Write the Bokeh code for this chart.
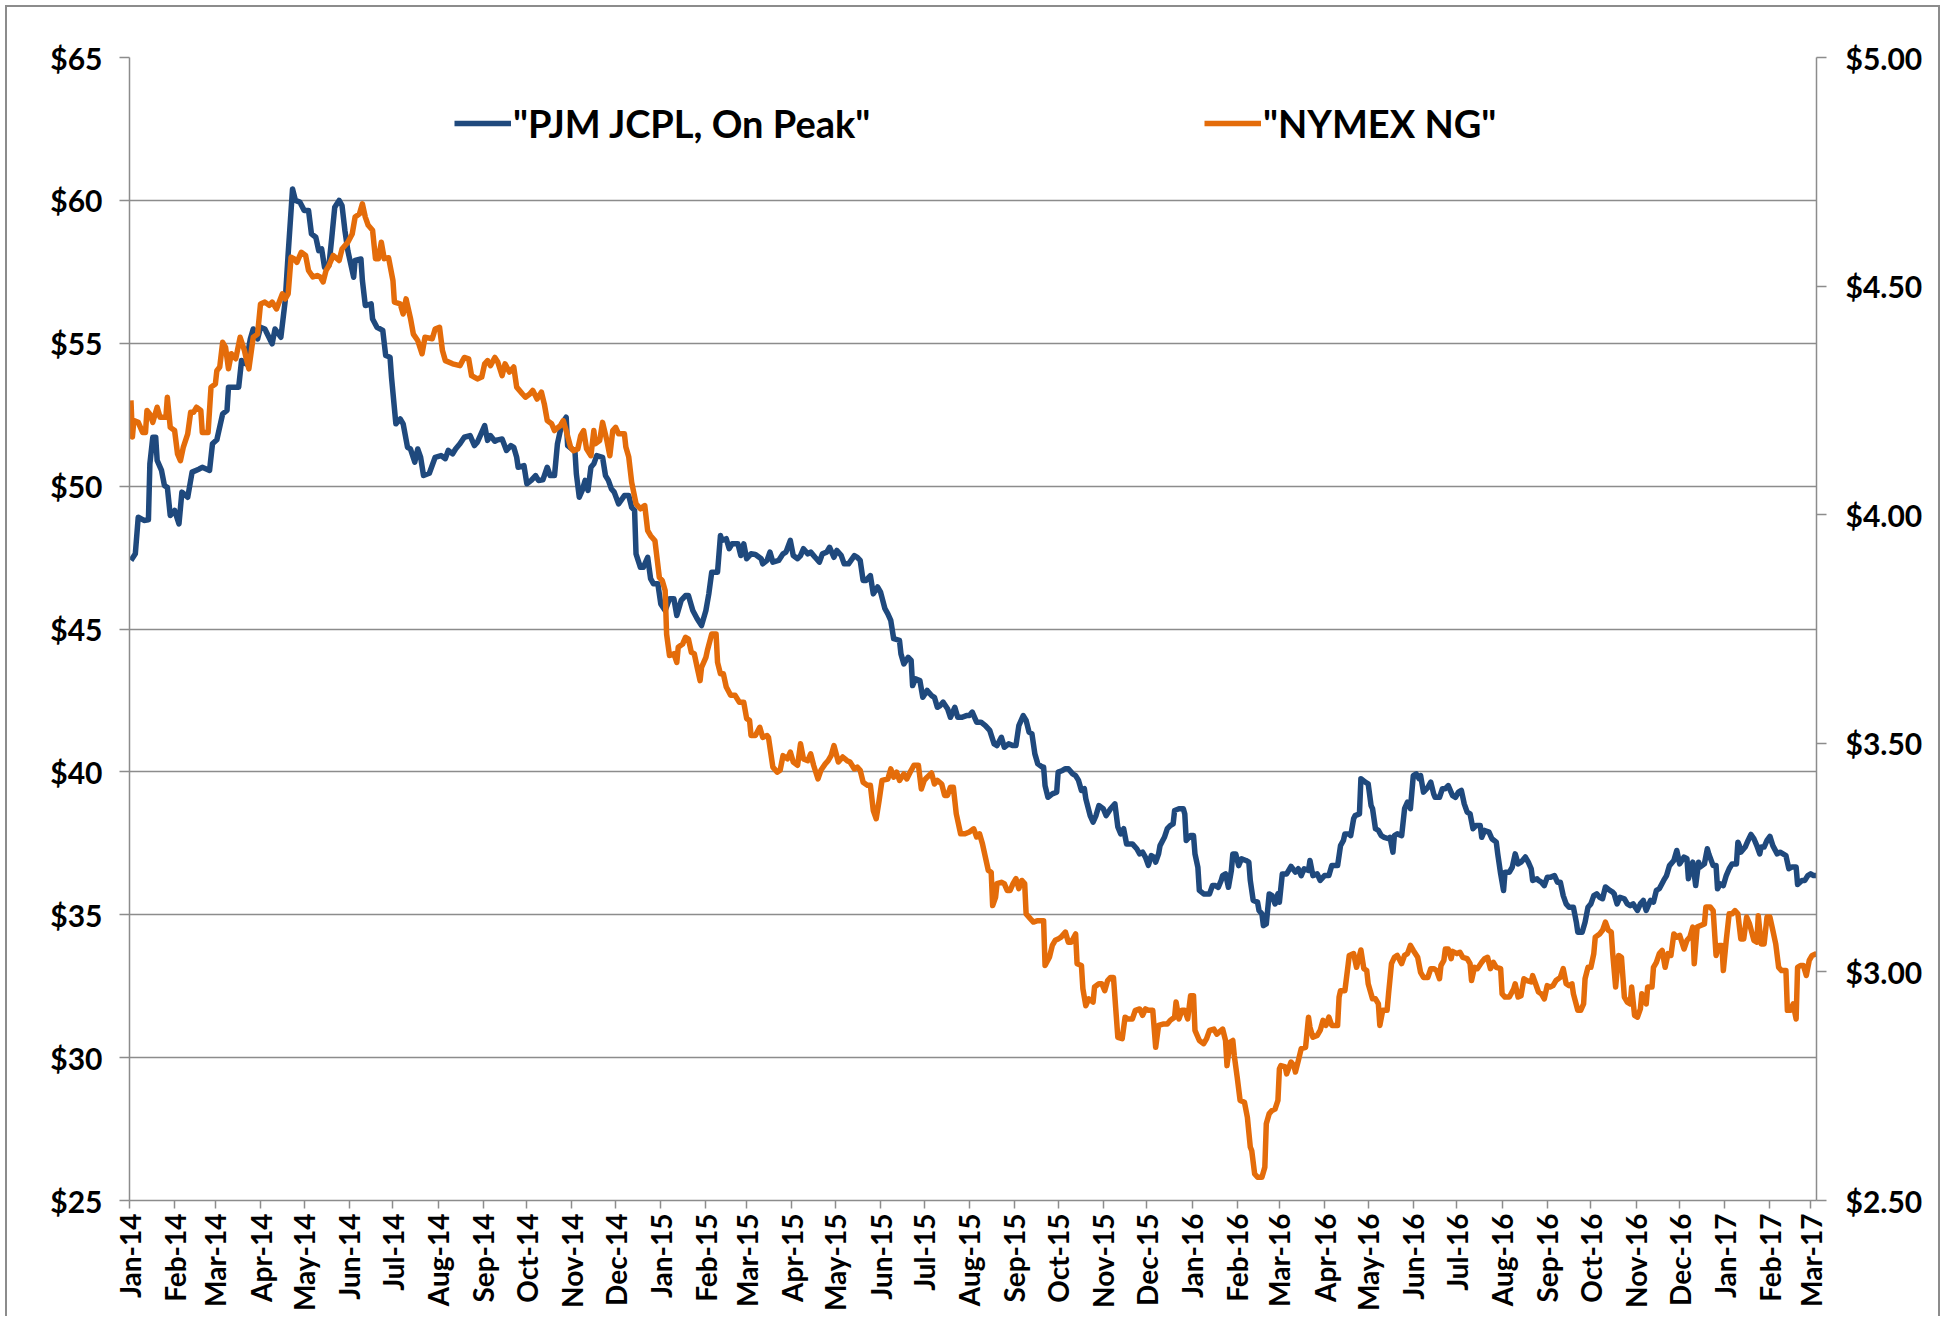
import math
from datetime import datetime, timedelta
import pandas as pd
from bokeh.plotting import figure
from bokeh.models import (Range1d, LinearAxis, FixedTicker, NumeralTickFormatter,
                          DatetimeTickFormatter, Legend, LegendItem, Label)
from bokeh.embed import file_html
from bokeh.resources import INLINE

# ---------------- data (day offset from 2014-01-01, price) ----------------
pjm_points = [
    (1, 47.40), (4, 47.63), (6, 48.91), (10, 48.80), (13, 48.82), (14, 50.78), (16, 51.71), (18, 51.71),
    (19, 50.90), (22, 50.55), (24, 50.02), (26, 49.96), (28, 48.97), (31, 49.15), (34, 48.68), (36, 49.79),
    (40, 49.61), (43, 50.49), (48, 50.60), (50, 50.66), (55, 50.55), (57, 51.48), (60, 51.62), (64, 52.53),
    (67, 52.65), (68, 53.46), (75, 53.46), (77, 54.40), (80, 54.28), (83, 55.15), (85, 55.50), (88, 55.15),
    (90, 55.56), (93, 55.50), (98, 54.98), (100, 55.50), (104, 55.21), (107, 56.50), (109, 58.13), (112, 60.40),
    (114, 60.00), (117, 59.94), (120, 59.65), (123, 59.65), (125, 58.83), (128, 58.71), (130, 58.24), (132, 58.30),
    (134, 57.66), (137, 57.72), (139, 58.71), (141, 59.76), (144, 60.00), (146, 59.82), (148, 58.94), (150, 58.24),
    (154, 57.31), (155, 57.90), (159, 57.95), (160, 57.20), (162, 56.32), (166, 56.38), (167, 55.85), (170, 55.56),
    (174, 55.45), (176, 54.57), (179, 54.51), (180, 53.81), (183, 52.18), (186, 52.35), (188, 52.18), (191, 51.36),
    (193, 51.30), (196, 50.84), (198, 51.30), (200, 51.01), (202, 50.37), (206, 50.45), (210, 51.01), (214, 51.07),
    (217, 50.96), (219, 51.25), (222, 51.13), (224, 51.30), (227, 51.48), (230, 51.71), (234, 51.77), (237, 51.42),
    (239, 51.54), (241, 51.77), (244, 52.12), (246, 51.60), (248, 51.77), (251, 51.57), (253, 51.62), (256, 51.65),
    (259, 51.25), (262, 51.42), (264, 51.36), (266, 51.01), (267, 50.66), (271, 50.72), (273, 50.08), (276, 50.20),
    (279, 50.37), (281, 50.20), (284, 50.22), (287, 50.66), (289, 50.37), (292, 50.37), (294, 51.48), (297, 52.18),
    (300, 52.41), (301, 51.42), (304, 51.30), (306, 51.25), (307, 50.43), (309, 49.61), (311, 49.85), (313, 50.20),
    (315, 49.85), (317, 50.66), (319, 50.78), (321, 51.07), (325, 51.01), (327, 50.37), (329, 50.20), (331, 49.91),
    (333, 49.79), (336, 49.38), (340, 49.67), (343, 49.67), (345, 49.26), (347, 49.15), (348, 47.63), (351, 47.16),
    (353, 47.16), (356, 47.51), (358, 46.76), (360, 46.58), (363, 46.58), (365, 45.88), (368, 45.65), (371, 46.06),
    (374, 46.06), (376, 45.47), (379, 46.00), (382, 46.17), (384, 46.17), (387, 45.65), (390, 45.36), (393, 45.12),
    (396, 45.65), (398, 46.23), (400, 46.99), (404, 46.99), (406, 48.27), (407, 48.10), (410, 48.16), (412, 47.81),
    (414, 47.98), (418, 47.98), (420, 47.57), (422, 47.98), (424, 47.46), (427, 47.63), (430, 47.61), (434, 47.46),
    (435, 47.28), (438, 47.40), (440, 47.69), (442, 47.34), (446, 47.40), (449, 47.63), (451, 47.69), (454, 48.10),
    (456, 47.57), (459, 47.46), (461, 47.57), (463, 47.81), (466, 47.63), (468, 47.69), (471, 47.51), (474, 47.34),
    (476, 47.63), (479, 47.69), (481, 47.86), (484, 47.51), (486, 47.75), (489, 47.57), (491, 47.28), (494, 47.28),
    (498, 47.57), (500, 47.51), (502, 47.40), (504, 46.70), (506, 46.70), (509, 46.87), (511, 46.23), (514, 46.47),
    (516, 46.29), (519, 45.71), (521, 45.53), (523, 45.30), (525, 44.66), (529, 44.60), (530, 44.13), (532, 43.78),
    (535, 44.01), (537, 43.90), (538, 43.02), (540, 43.26), (543, 43.20), (545, 42.61), (548, 42.85), (551, 42.67),
    (553, 42.61), (555, 42.26), (557, 42.32), (559, 42.44), (562, 42.21), (564, 41.91), (567, 42.26), (569, 41.91),
    (572, 41.91), (575, 41.97), (577, 41.97), (579, 42.09), (582, 41.74), (585, 41.74), (588, 41.62), (591, 41.45),
    (594, 40.98), (596, 40.92), (599, 41.21), (601, 40.86), (604, 40.98), (607, 40.92), (609, 40.92), (611, 41.62),
    (614, 41.97), (616, 41.80), (618, 41.39), (620, 41.33), (622, 40.63), (624, 40.28), (627, 40.17), (628, 40.17),
    (629, 39.52), (631, 39.11), (634, 39.23), (637, 39.29), (638, 39.99), (641, 40.05), (643, 40.11), (645, 40.11),
    (648, 39.93), (650, 39.87), (652, 39.70), (654, 39.35), (656, 39.41), (657, 39.06), (660, 38.47), (662, 38.24),
    (664, 38.47), (666, 38.82), (669, 38.71), (671, 38.47), (674, 38.71), (677, 38.88), (679, 38.07), (681, 37.83),
    (683, 38.01), (685, 37.48), (687, 37.48), (689, 37.48), (692, 37.31), (694, 37.13), (696, 37.19), (698, 37.01),
    (700, 36.73), (702, 37.07), (704, 37.01), (705, 36.84), (707, 37.13), (708, 37.42), (711, 37.71), (713, 38.01),
    (715, 38.12), (717, 38.18), (718, 38.65), (721, 38.71), (724, 38.71), (725, 38.53), (726, 37.60), (729, 37.77),
    (731, 37.77), (732, 37.13), (734, 36.66), (735, 35.85), (738, 35.73), (742, 35.73), (744, 36.02), (746, 36.02),
    (748, 35.96), (750, 36.20), (751, 36.37), (753, 36.43), (755, 35.96), (757, 36.55), (758, 37.13), (760, 37.13),
    (762, 36.72), (764, 36.96), (767, 36.90), (769, 36.84), (770, 36.20), (772, 35.50), (775, 35.44), (776, 35.15),
    (778, 35.03), (779, 34.62), (781, 34.68), (783, 35.73), (785, 35.67), (787, 35.38), (789, 35.73), (790, 35.44),
    (792, 36.43), (795, 36.43), (798, 36.69), (801, 36.49), (803, 36.61), (805, 36.37), (807, 36.61), (810, 36.55),
    (811, 36.90), (813, 36.37), (816, 36.43), (818, 36.20), (821, 36.37), (824, 36.37), (826, 36.72), (828, 36.72),
    (830, 36.72), (832, 37.42), (834, 37.60), (835, 37.83), (838, 37.83), (839, 37.77), (841, 38.36), (842, 38.47),
    (845, 38.53), (846, 39.76), (849, 39.64), (851, 39.58), (853, 38.82), (854, 38.71), (856, 38.01), (858, 37.95),
    (860, 37.77), (862, 37.71), (865, 37.66), (866, 37.71), (868, 37.19), (869, 37.77), (871, 37.83), (874, 37.77),
    (876, 38.71), (878, 38.94), (880, 38.71), (882, 39.87), (884, 39.93), (886, 39.76), (887, 39.87), (889, 39.29),
    (892, 39.46), (894, 39.64), (896, 39.23), (897, 39.11), (900, 39.11), (902, 39.41), (904, 39.41), (906, 39.52),
    (909, 39.17), (911, 39.11), (913, 39.29), (915, 39.35), (917, 38.88), (919, 38.59), (921, 38.53), (923, 38.01),
    (925, 38.12), (928, 38.12), (929, 37.71), (931, 37.95), (934, 37.89), (936, 37.66), (939, 37.54), (940, 37.13),
    (942, 36.43), (944, 35.85), (945, 36.49), (948, 36.49), (950, 36.67), (952, 37.13), (954, 36.78), (956, 36.84),
    (959, 37.02), (961, 36.84), (963, 36.61), (964, 36.20), (967, 36.26), (968, 36.20), (970, 36.14), (972, 36.02),
    (974, 36.31), (976, 36.31), (979, 36.37), (981, 36.14), (983, 36.14), (985, 35.67), (987, 35.38), (989, 35.26),
    (992, 35.26), (994, 34.74), (995, 34.39), (998, 34.39), (1000, 34.74), (1002, 35.26), (1004, 35.38), (1006, 35.67),
    (1008, 35.73), (1010, 35.61), (1012, 35.56), (1014, 35.97), (1017, 35.85), (1019, 35.79), (1020, 35.73), (1022, 35.38),
    (1024, 35.61), (1027, 35.56), (1029, 35.38), (1031, 35.32), (1033, 35.38), (1036, 35.15), (1038, 35.38), (1040, 35.50),
    (1042, 35.15), (1045, 35.50), (1047, 35.44), (1049, 35.85), (1051, 35.91), (1054, 36.20), (1056, 36.37), (1058, 36.72),
    (1061, 36.90), (1063, 37.25), (1065, 36.78), (1068, 37.02), (1070, 36.96), (1071, 36.26), (1073, 36.72), (1074, 36.84),
    (1076, 36.02), (1078, 36.84), (1079, 36.67), (1082, 36.78), (1084, 37.31), (1085, 37.13), (1088, 36.72), (1090, 36.72),
    (1091, 35.91), (1093, 36.08), (1095, 36.02), (1097, 36.37), (1099, 36.61), (1101, 36.78), (1104, 36.78), (1105, 37.54),
    (1106, 37.42), (1107, 37.19), (1110, 37.37), (1112, 37.60), (1114, 37.81), (1116, 37.66), (1118, 37.42), (1120, 37.13),
    (1121, 37.37), (1123, 37.37), (1125, 37.60), (1127, 37.74), (1129, 37.42), (1132, 37.13), (1134, 37.19), (1136, 37.13),
    (1138, 37.07), (1140, 36.61), (1142, 36.67), (1145, 36.67), (1146, 36.06), (1149, 36.20), (1151, 36.20), (1153, 36.37),
    (1155, 36.43), (1157, 36.37), (1159, 36.37),
]

ng_points = [
    (1, 4.25), (2, 4.17), (3, 4.206), (6, 4.202), (9, 4.180), (11, 4.180), (12, 4.228), (14, 4.220), (16, 4.202),
    (19, 4.235), (21, 4.213), (25, 4.213), (26, 4.257), (28, 4.191), (31, 4.184), (33, 4.133), (35, 4.118), (37, 4.148),
    (40, 4.177), (42, 4.224), (44, 4.224), (46, 4.235), (49, 4.228), (50, 4.180), (54, 4.180), (56, 4.279), (59, 4.286),
    (60, 4.315), (62, 4.323), (64, 4.377), (66, 4.366), (68, 4.319), (70, 4.352), (73, 4.341), (76, 4.388), (79, 4.359),
    (80, 4.344), (82, 4.319), (85, 4.388), (88, 4.395), (90, 4.461), (93, 4.465), (96, 4.458), (98, 4.465), (101, 4.450),
    (105, 4.483), (107, 4.472), (109, 4.483), (111, 4.563), (113, 4.560), (115, 4.552), (118, 4.574), (121, 4.567),
    (123, 4.534), (126, 4.520), (129, 4.523), (131, 4.520), (133, 4.509), (135, 4.534), (137, 4.545), (140, 4.567),
    (144, 4.556), (146, 4.581), (150, 4.596), (153, 4.614), (155, 4.651), (158, 4.658), (160, 4.680), (162, 4.651),
    (164, 4.633), (167, 4.622), (169, 4.560), (171, 4.560), (173, 4.596), (175, 4.560), (178, 4.562), (181, 4.512),
    (182, 4.465), (186, 4.461), (188, 4.439), (190, 4.472), (193, 4.430), (195, 4.395), (198, 4.381), (201, 4.352),
    (203, 4.388), (208, 4.385), (210, 4.406), (213, 4.410), (215, 4.359), (217, 4.337), (222, 4.330), (227, 4.326),
    (230, 4.344), (233, 4.341), (235, 4.304), (239, 4.297), (242, 4.301), (244, 4.330), (246, 4.337), (248, 4.326),
    (251, 4.344), (253, 4.334), (256, 4.304), (258, 4.330), (261, 4.312), (264, 4.323), (266, 4.279), (270, 4.264),
    (272, 4.257), (275, 4.264), (277, 4.272), (280, 4.253), (283, 4.268), (285, 4.242), (287, 4.206), (290, 4.199),
    (292, 4.184), (294, 4.190), (296, 4.195), (298, 4.206), (300, 4.184), (303, 4.148), (305, 4.140), (308, 4.144),
    (310, 4.173), (312, 4.184), (314, 4.144), (317, 4.129), (319, 4.184), (320, 4.155), (323, 4.162), (325, 4.202),
    (328, 4.162), (330, 4.129), (332, 4.184), (334, 4.191), (336, 4.177), (340, 4.177), (341, 4.148), (343, 4.126),
    (345, 4.071), (348, 4.024), (351, 4.013), (354, 4.020), (356, 3.965), (358, 3.954), (361, 3.943), (364, 3.863),
    (366, 3.856), (368, 3.834), (369, 3.739), (371, 3.692), (374, 3.696), (376, 3.677), (377, 3.710), (380, 3.717),
    (382, 3.732), (384, 3.728), (386, 3.699), (388, 3.696), (390, 3.666), (392, 3.637), (393, 3.666), (396, 3.688),
    (397, 3.703), (400, 3.739), (403, 3.739), (404, 3.677), (406, 3.652), (408, 3.652), (410, 3.623), (413, 3.605),
    (416, 3.605), (419, 3.590), (422, 3.590), (424, 3.554), (426, 3.550), (427, 3.517), (430, 3.517), (433, 3.535),
    (435, 3.513), (438, 3.517), (439, 3.513), (442, 3.448), (445, 3.437), (447, 3.441), (449, 3.473), (452, 3.466),
    (454, 3.481), (456, 3.459), (459, 3.452), (461, 3.499), (463, 3.466), (466, 3.462), (468, 3.477), (470, 3.452),
    (473, 3.422), (475, 3.441), (478, 3.455), (480, 3.462), (482, 3.473), (484, 3.495), (487, 3.459), (490, 3.470),
    (493, 3.462), (495, 3.459), (498, 3.444), (500, 3.448), (502, 3.441), (504, 3.415), (507, 3.408), (509, 3.408),
    (511, 3.353), (513, 3.335), (515, 3.375), (517, 3.419), (521, 3.422), (523, 3.444), (525, 3.426), (527, 3.437),
    (529, 3.419), (532, 3.433), (534, 3.422), (537, 3.441), (539, 3.452), (542, 3.452), (544, 3.400), (546, 3.419),
    (548, 3.426), (551, 3.435), (553, 3.411), (555, 3.419), (558, 3.411), (560, 3.386), (562, 3.386), (564, 3.404),
    (566, 3.404), (568, 3.346), (571, 3.302), (574, 3.302), (577, 3.306), (580, 3.313), (582, 3.295), (584, 3.302),
    (586, 3.280), (588, 3.251), (590, 3.222), (592, 3.218), (593, 3.145), (595, 3.163), (596, 3.193), (599, 3.196),
    (601, 3.193), (603, 3.178), (605, 3.178), (607, 3.193), (609, 3.204), (611, 3.182), (613, 3.200), (615, 3.193),
    (616, 3.127), (619, 3.116), (621, 3.109), (624, 3.112), (628, 3.112), (629, 3.014), (632, 3.032), (634, 3.058),
    (636, 3.069), (638, 3.072), (640, 3.076), (643, 3.087), (645, 3.065), (647, 3.065), (650, 3.083), (651, 3.018),
    (654, 3.014), (655, 2.963), (657, 2.926), (659, 2.941), (662, 2.934), (663, 2.967), (666, 2.974), (668, 2.974),
    (670, 2.959), (672, 2.981), (674, 2.988), (676, 2.988), (679, 2.857), (682, 2.854), (684, 2.901), (686, 2.897),
    (689, 2.897), (691, 2.916), (694, 2.919), (696, 2.905), (698, 2.919), (700, 2.916), (703, 2.916), (705, 2.835),
    (707, 2.883), (710, 2.886), (713, 2.886), (715, 2.894), (718, 2.901), (719, 2.934), (721, 2.897), (723, 2.916),
    (725, 2.916), (727, 2.897), (729, 2.948), (731, 2.948), (732, 2.872), (735, 2.850), (738, 2.843), (740, 2.854),
    (742, 2.872), (745, 2.875), (747, 2.864), (751, 2.875), (753, 2.850), (754, 2.795), (756, 2.846), (758, 2.850),
    (759, 2.817), (761, 2.770), (763, 2.719), (766, 2.715), (768, 2.682), (770, 2.617), (771, 2.609), (773, 2.558),
    (775, 2.551), (778, 2.551), (780, 2.573), (781, 2.668), (783, 2.690), (785, 2.697), (787, 2.700), (789, 2.719),
    (790, 2.788), (791, 2.795), (794, 2.792), (795, 2.777), (798, 2.803), (800, 2.795), (801, 2.781), (803, 2.806),
    (805, 2.832), (808, 2.835), (810, 2.901), (811, 2.879), (813, 2.857), (816, 2.861), (818, 2.872), (820, 2.894),
    (822, 2.883), (824, 2.901), (826, 2.883), (827, 2.883), (830, 2.883), (831, 2.945), (832, 2.959), (835, 2.959),
    (837, 3.010), (838, 3.036), (841, 3.040), (843, 3.010), (846, 3.048), (848, 3.007), (850, 3.003), (851, 2.974),
    (854, 2.941), (856, 2.941), (858, 2.930), (859, 2.883), (861, 2.916), (864, 2.916), (865, 2.952), (867, 3.018),
    (869, 3.032), (871, 3.036), (874, 3.018), (876, 3.036), (878, 3.040), (880, 3.058), (882, 3.047), (885, 3.032),
    (887, 2.999), (889, 2.988), (892, 2.988), (894, 3.007), (896, 3.007), (898, 3.003), (900, 2.985), (901, 3.014),
    (903, 3.025), (904, 3.050), (906, 3.050), (908, 3.029), (909, 3.045), (912, 3.040), (914, 3.043), (916, 3.032),
    (919, 3.029), (921, 3.018), (922, 2.981), (924, 3.010), (926, 3.007), (929, 3.021), (931, 3.029), (933, 3.032),
    (935, 3.007), (937, 3.021), (939, 3.010), (942, 3.007), (943, 2.952), (945, 2.945), (948, 2.945), (951, 2.963),
    (952, 2.974), (954, 2.945), (956, 2.948), (958, 2.985), (960, 2.981), (963, 2.978), (964, 2.992), (966, 2.974),
    (968, 2.956), (970, 2.952), (972, 2.941), (974, 2.970), (976, 2.967), (978, 2.970), (980, 2.981), (983, 2.988),
    (985, 3.007), (987, 2.974), (989, 2.970), (991, 2.974), (992, 2.952), (995, 2.916), (997, 2.916), (999, 2.930),
    (1000, 2.985), (1002, 3.010), (1004, 3.010), (1006, 3.040), (1007, 3.076), (1010, 3.083), (1012, 3.091), (1014, 3.109),
    (1016, 3.091), (1018, 3.087), (1019, 3.040), (1021, 2.967), (1023, 3.036), (1025, 3.032), (1027, 2.945), (1029, 2.934),
    (1031, 2.930), (1032, 2.967), (1034, 2.905), (1036, 2.901), (1038, 2.919), (1039, 2.952), (1042, 2.930), (1043, 2.967),
    (1046, 2.967), (1047, 3.010), (1049, 3.021), (1051, 3.040), (1053, 3.047), (1055, 3.010), (1057, 3.040), (1059, 3.036),
    (1061, 3.083), (1063, 3.076), (1065, 3.080), (1068, 3.050), (1070, 3.069), (1072, 3.076), (1074, 3.098), (1075, 3.018),
    (1077, 3.098), (1079, 3.101), (1082, 3.105), (1083, 3.142), (1086, 3.142), (1088, 3.134), (1090, 3.036), (1092, 3.058),
    (1094, 3.058), (1095, 3.003), (1097, 3.069), (1099, 3.127), (1101, 3.127), (1103, 3.134), (1105, 3.127), (1107, 3.072),
    (1109, 3.072), (1111, 3.120), (1113, 3.105), (1116, 3.069), (1118, 3.065), (1119, 3.123), (1121, 3.061), (1123, 3.061),
    (1125, 3.120), (1127, 3.120), (1129, 3.091), (1131, 3.061), (1133, 3.010), (1135, 3.003), (1138, 3.003), (1139, 2.916),
    (1141, 2.916), (1143, 2.930), (1145, 2.897), (1146, 3.010), (1148, 3.014), (1150, 3.014), (1152, 2.992), (1154, 3.025),
    (1156, 3.036), (1159, 3.040),
]

left_ticks = [25, 30, 35, 40, 45, 50, 55, 60, 65]
right_ticks = [2.5, 3.0, 3.5, 4.0, 4.5, 5.0]
series_names = ['"PJM JCPL, On Peak"', '"NYMEX NG"']
corner_note = "Business"

BASE = datetime(2014, 1, 1)
END = BASE + timedelta(days=1159)

pjm_dates = [BASE + timedelta(days=d) for d, _ in pjm_points]
pjm_usd = [v for _, v in pjm_points]
ng_dates = [BASE + timedelta(days=d) for d, _ in ng_points]
ng_usd = [v for _, v in ng_points]

EPOCH = datetime(1970, 1, 1)
month_ticks = [(d.to_pydatetime() - EPOCH).total_seconds() * 1000.0
               for d in pd.date_range("2014-01-01", "2017-03-01", freq="MS")]

GRAY = "#8c8c8c"
BLUE = "#1F497D"
ORANGE = "#E46C0A"

p = figure(width=1941, height=1316, x_axis_type="datetime",
           output_backend="svg", toolbar_location=None,
           x_range=Range1d(BASE, END), y_range=Range1d(25, 65),
           min_border_left=129, min_border_right=125,
           min_border_top=57, min_border_bottom=116)
p.extra_y_ranges = {"ng": Range1d(2.5, 5.0)}
p.outline_line_color = None
p.background_fill_color = "white"
p.border_fill_alpha = 0
p.styles = {"box-shadow": "inset 5px 5px 0 0 #ffffff, inset -1px 0 0 0 #ffffff, "
                          "inset 7px 7px 0 0 #8c8c8c, inset -3px 0 0 0 #8c8c8c"}

# grid
p.xgrid.grid_line_color = None
p.ygrid.ticker = FixedTicker(ticks=left_ticks)
p.ygrid.grid_line_color = GRAY
p.ygrid.grid_line_width = 1.5


def style_axis(ax, size, standoff, tick_out, font="Lato"):
    ax.axis_line_color = GRAY
    ax.axis_line_width = 1.5
    ax.major_tick_line_color = GRAY
    ax.major_tick_line_width = 1.5
    ax.major_tick_out = tick_out
    ax.major_tick_in = 0
    ax.minor_tick_out = 0
    ax.minor_tick_in = 0
    ax.minor_tick_line_color = None
    ax.major_label_text_font = font
    ax.major_label_text_font_style = "bold"
    ax.major_label_text_font_size = size
    ax.major_label_text_color = "black"
    ax.major_label_standoff = standoff


# left axis
p.yaxis.ticker = FixedTicker(ticks=left_ticks)
p.yaxis.formatter = NumeralTickFormatter(format="$0")
style_axis(p.yaxis[0], "30px", 17, 10)

# right axis
right = LinearAxis(y_range_name="ng", ticker=FixedTicker(ticks=right_ticks),
                   formatter=NumeralTickFormatter(format="$0.00"))
style_axis(right, "30px", 19, 10)
p.add_layout(right, "right")

# bottom axis
fmt = "%b-%y"
p.xaxis.ticker = FixedTicker(ticks=month_ticks)
p.xaxis.formatter = DatetimeTickFormatter(
    microseconds=fmt, milliseconds=fmt, seconds=fmt, minsec=fmt, minutes=fmt,
    hourmin=fmt, hours=fmt, days=fmt, months=fmt, years=fmt)
p.xaxis.major_label_orientation = math.pi / 2
style_axis(p.xaxis[0], "28px", 5, 8)

# lines
r1 = p.line(pjm_dates, pjm_usd, line_color=BLUE, line_width=5.5, line_join="round")
r2 = p.line(ng_dates, ng_usd, line_color=ORANGE, line_width=5.5, line_join="round",
            y_range_name="ng")


def make_legend(label, r, x):
    return Legend(items=[LegendItem(label=label, renderers=[r])], location=(x, 1054),
                  orientation="horizontal", glyph_width=57, glyph_height=44,
                  label_height=44, label_standoff=2, padding=0, margin=0, spacing=0,
                  border_line_color=None, background_fill_alpha=0,
                  label_text_font="Lato", label_text_font_style="bold",
                  label_text_font_size="38px", label_text_color="black",
                  label_text_baseline="middle")


p.add_layout(make_legend(series_names[0], r1, 325))
p.add_layout(make_legend(series_names[1], r2, 1075))

# small note near the top-left edge (kept fully inside the picture)
p.add_layout(Label(x=-17, y=1181, x_units="screen", y_units="screen", text=corner_note,
                   text_font="Lato", text_font_size="13px", text_color="#3b5a9c",
                   text_baseline="alphabetic", text_align="left"))

open("out.html", "w").write(file_html(p, INLINE))
